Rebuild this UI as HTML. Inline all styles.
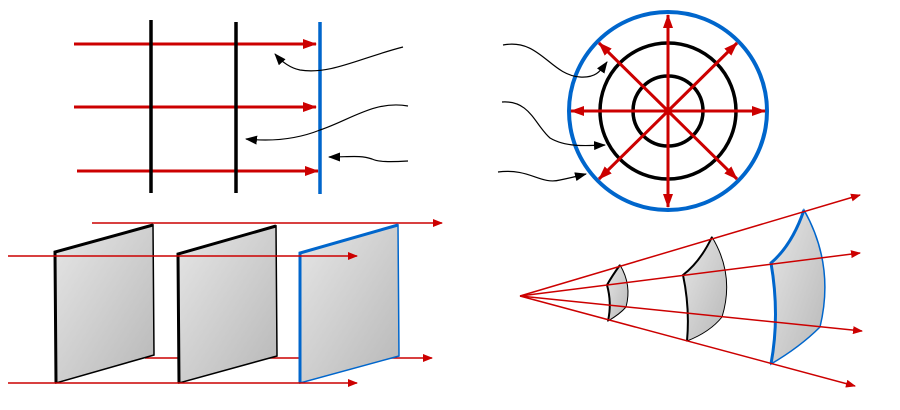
<!DOCTYPE html>
<html><head><meta charset="utf-8"><style>html,body{margin:0;padding:0;background:#fff}svg{display:block}</style></head>
<body>
<svg width="900" height="410" viewBox="0 0 900 410" xmlns="http://www.w3.org/2000/svg">
<defs>
<marker id="r" markerWidth="10" markerHeight="8" refX="9" refY="4" orient="auto" markerUnits="userSpaceOnUse"><path d="M0,0 L10,4 L0,8 z" fill="#cc0000"/></marker>
<marker id="rb" markerWidth="14" markerHeight="10" refX="13" refY="5" orient="auto" markerUnits="userSpaceOnUse"><path d="M0,0 L14,5 L0,10 z" fill="#cc0000"/></marker>
<marker id="k" markerWidth="12" markerHeight="9" refX="11" refY="4.5" orient="auto" markerUnits="userSpaceOnUse"><path d="M0,0 L12,4.5 L0,9 z" fill="#000"/></marker>
<linearGradient id="g" x1="0" y1="0" x2="1" y2="1"><stop offset="0" stop-color="#e6e6e6"/><stop offset="1" stop-color="#b8b8b8"/></linearGradient>
</defs>
<!-- top left -->
<g stroke="#cc0000" stroke-width="3" fill="none">
<line x1="74" y1="44" x2="316" y2="44" marker-end="url(#rb)"/>
<line x1="74" y1="107" x2="316" y2="107" marker-end="url(#rb)"/>
<line x1="77" y1="171" x2="318" y2="171" marker-end="url(#rb)"/>
</g>
<line x1="151" y1="20" x2="151" y2="193" stroke="#000" stroke-width="3.5"/>
<line x1="236" y1="22" x2="236" y2="193" stroke="#000" stroke-width="3.5"/>
<line x1="320" y1="22" x2="320" y2="194" stroke="#0066cc" stroke-width="3.5"/>
<g stroke="#000" stroke-width="1.2" fill="none">
<path d="M403,47 C360,58 330,75 300,70 C290,68 282,62 275,54" marker-end="url(#k)"/>
<path d="M408,106 C375,100 350,120 320,130 C300,138 275,142 246,139" marker-end="url(#k)"/>
<path d="M408,161 C390,162 378,162 372,159 C360,155 350,157 329,157" marker-end="url(#k)"/>
</g>
<!-- top right circle -->
<circle cx="668" cy="111" r="35" fill="none" stroke="#000" stroke-width="3.5"/>
<circle cx="668" cy="111" r="68" fill="none" stroke="#000" stroke-width="3.5"/>
<circle cx="668" cy="111" r="99" fill="none" stroke="#0066cc" stroke-width="4"/>
<g stroke="#cc0000" stroke-width="3" fill="none">
<line x1="668" y1="111" x2="668" y2="15" marker-end="url(#rb)"/>
<line x1="668" y1="111" x2="668" y2="207" marker-end="url(#rb)"/>
<line x1="668" y1="111" x2="571" y2="111" marker-end="url(#rb)"/>
<line x1="668" y1="111" x2="765" y2="111" marker-end="url(#rb)"/>
<line x1="668" y1="111" x2="599" y2="43" marker-end="url(#rb)"/>
<line x1="668" y1="111" x2="737" y2="43" marker-end="url(#rb)"/>
<line x1="668" y1="111" x2="599" y2="179" marker-end="url(#rb)"/>
<line x1="668" y1="111" x2="737" y2="179" marker-end="url(#rb)"/>
</g>
<g stroke="#000" stroke-width="1.2" fill="none">
<path d="M503,45 C540,38 550,75 580,77 C595,78 600,72 607,62" marker-end="url(#k)"/>
<path d="M502,102 C530,100 535,125 550,138 C565,147 585,146 605,145" marker-end="url(#k)"/>
<path d="M498,172 C530,168 540,185 560,180 C570,178 578,176 586,174" marker-end="url(#k)"/>
</g>
<!-- bottom left -->
<g stroke="#cc0000" stroke-width="1.5" fill="none">
<line x1="92" y1="223" x2="442" y2="223" marker-end="url(#r)"/>
<line x1="145" y1="358" x2="432" y2="358" marker-end="url(#r)"/>
</g>
<polygon points="55,252 153,225 154,355 56,383" fill="url(#g)" stroke="#000" stroke-width="1.5"/>
<path d="M56,383 L55,252 L153,225" fill="none" stroke="#000" stroke-width="3"/>
<polygon points="178,254 276,226 277,356 179,383" fill="url(#g)" stroke="#000" stroke-width="1.5"/>
<path d="M179,383 L178,254 L276,226" fill="none" stroke="#000" stroke-width="3"/>
<polygon points="300,253 398,225 399,356 300,383" fill="url(#g)" stroke="#0066cc" stroke-width="1.5"/>
<path d="M300,383 L300,253 L398,225" fill="none" stroke="#0066cc" stroke-width="3"/>
<g stroke="#cc0000" stroke-width="1.5" fill="none">
<line x1="8" y1="256" x2="357" y2="256" marker-end="url(#r)"/>
<line x1="8" y1="383" x2="357" y2="383" marker-end="url(#r)"/>
</g>
<!-- bottom right -->
<path d="M620,265 Q612,276 607,285 Q612,303 608,321 Q620,314 626,307 Q632,285 620,265 Z" fill="url(#g)" stroke="#000" stroke-width="1"/>
<path d="M620,265 Q612,276 607,285 Q612,303 608,321" fill="none" stroke="#000" stroke-width="2"/>
<path d="M712,237 Q700,262 683,275 Q690,308 687,341 Q710,332 722,317 Q735,275 712,237 Z" fill="url(#g)" stroke="#000" stroke-width="1"/>
<path d="M712,237 Q700,262 683,275 Q690,308 687,341" fill="none" stroke="#000" stroke-width="2"/>
<path d="M804,210 Q792,245 771,263 Q780,315 771,364 Q800,347 820,327 Q835,265 804,210 Z" fill="url(#g)" stroke="#0066cc" stroke-width="1.5"/>
<path d="M804,210 Q792,245 771,263 Q780,315 771,364" fill="none" stroke="#0066cc" stroke-width="3"/>
<g stroke="#cc0000" stroke-width="1.5" fill="none">
<line x1="520" y1="296" x2="860" y2="195" marker-end="url(#r)"/>
<line x1="520" y1="296" x2="860" y2="253" marker-end="url(#r)"/>
<line x1="520" y1="296" x2="862" y2="331" marker-end="url(#r)"/>
<line x1="520" y1="296" x2="855" y2="386" marker-end="url(#r)"/>
</g>
</svg>
</body></html>
